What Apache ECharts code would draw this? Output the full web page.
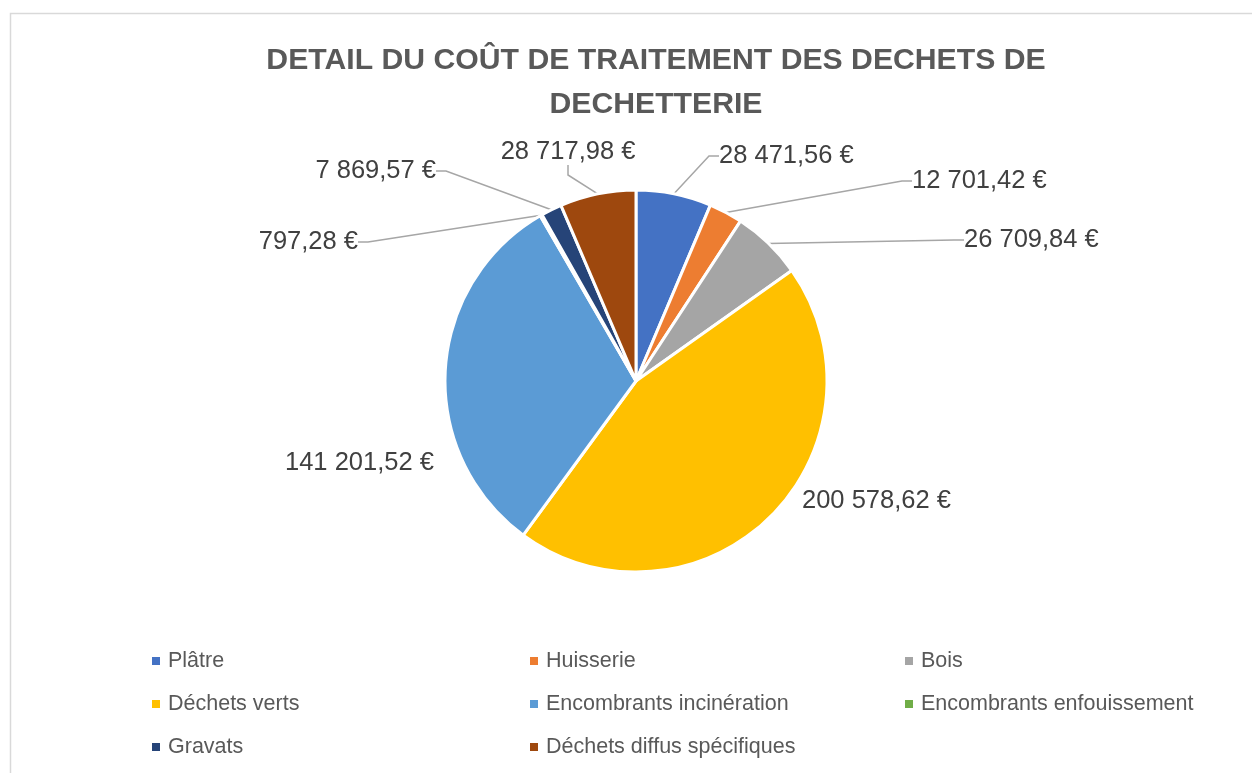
<!DOCTYPE html>
<html>
<head>
<meta charset="utf-8">
<script src="https://cdn.jsdelivr.net/npm/echarts@6/dist/echarts.min.js"></script>
<style>
  html, body { margin: 0; padding: 0; background: #fff; }
  #chart { width: 1252px; height: 773px; }
</style>
</head>
<body>
<div id="chart"></div>
<script>
// catégories et coûts (€)
var categories = [
  "Plâtre", "Huisserie", "Bois", "Déchets verts",
  "Encombrants incinération", "Encombrants enfouissement",
  "Gravats", "Déchets diffus spécifiques"
];
var costs = [28471.56, 12701.42, 26709.84, 200578.62, 141201.52, 797.28, 7869.57, 28717.98];
var colors = ["#4472C4", "#ED7D31", "#A5A5A5", "#FFC000", "#5B9BD5", "#70AD47", "#264478", "#9E480E"];

// position des étiquettes (x, y milieu, alignement) comme dans Excel
var labelPos = [
  [719, 156, "left"], [912, 181, "left"], [964, 240, "left"], [802, 501, "left"],
  [285, 463, "left"], [358, 242, "right"], [436, 171, "right"], [568, 152, "center"]
];
var noLine = [3, 4];

function euro(v) {
  var parts = v.toFixed(2).split(".");
  var ent = parts[0].replace(/\B(?=(\d{3})+(?!\d))/g, " ");
  return ent + "," + parts[1] + " €";
}

var chart = echarts.init(document.getElementById("chart"));

var pieData = categories.map(function (name, i) {
  var item = { name: name, value: costs[i], itemStyle: { color: colors[i] } };
  if (noLine.indexOf(i) >= 0) {
    item.labelLine = { show: false };
  }
  return item;
});

function legendCol(names, left) {
  return {
    orient: "vertical",
    left: left,
    top: 650,
    padding: 0,
    icon: "rect",
    itemWidth: 10,
    itemHeight: 10,
    itemGap: 21,
    selectedMode: false,
    data: names,
    textStyle: {
      fontFamily: "Liberation Sans",
      fontSize: 21.5,
      lineHeight: 22,
      color: "#595959",
      padding: [0, 0, 0, 2]
    }
  };
}

chart.setOption({
  animation: false,
  color: colors,
  title: {
    text: "DETAIL DU COÛT DE TRAITEMENT DES DECHETS DE\nDECHETTERIE",
    left: 651,
    textAlign: "center",
    top: 34,
    textStyle: {
      fontFamily: "Liberation Sans",
      fontWeight: "bold",
      fontSize: 30.2,
      lineHeight: 44,
      color: "#595959"
    }
  },
  graphic: [{
    type: "rect",
    shape: { x: 10.5, y: 13.5, width: 1300, height: 800 },
    style: { fill: "none", stroke: "#d9d9d9", lineWidth: 1.5 },
    silent: true
  }],
  legend: [
    legendCol(["Plâtre", "Déchets verts", "Gravats"], 150),
    legendCol(["Huisserie", "Encombrants incinération", "Déchets diffus spécifiques"], 528),
    legendCol(["Bois", "Encombrants enfouissement"], 903)
  ],
  series: [{
    type: "pie",
    center: [636, 381],
    radius: 191,
    startAngle: 90,
    clockwise: true,
    avoidLabelOverlap: false,
    itemStyle: { borderColor: "#fff", borderWidth: 3 },
    label: {
      show: true,
      position: "outside",
      formatter: function (p) { return euro(p.value); },
      fontFamily: "Liberation Sans",
      fontSize: 25.5,
      color: "#404040"
    },
    labelLine: {
      show: true,
      length: 10,
      length2: 10,
      lineStyle: { color: "#a6a6a6", width: 1.5 }
    },
    labelLayout: function (params) {
      var p = labelPos[params.dataIndex];
      return { x: p[0], y: p[1], align: p[2], verticalAlign: "middle" };
    },
    data: pieData
  }]
});
</script>
</body>
</html>
